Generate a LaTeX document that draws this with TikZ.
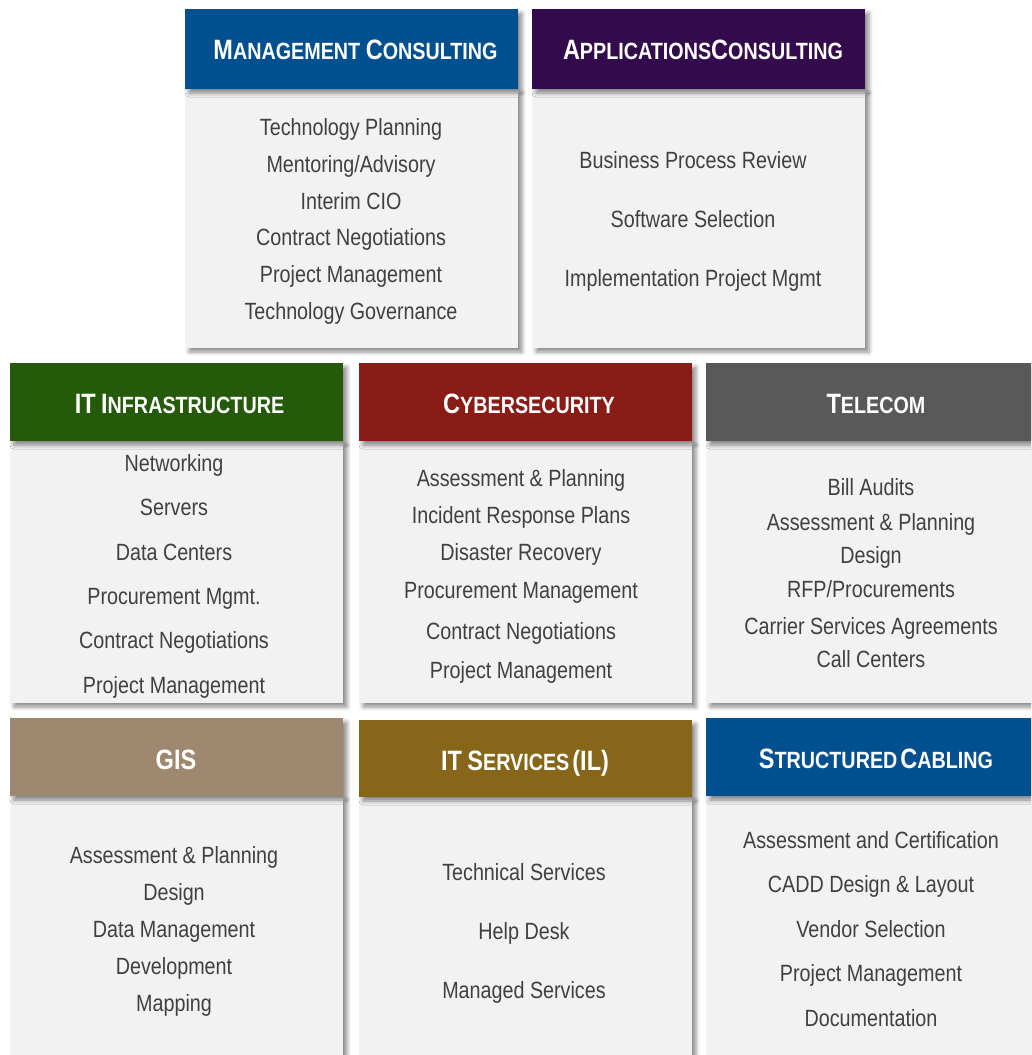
\documentclass[tikz,border=0pt]{standalone}
\usepackage{fontspec}
\setmainfont{Liberation Sans}[FakeStretch=0.84]
\usetikzlibrary{shadows.blur}

\definecolor{mgmtblue}{RGB}{0,79,143}
\definecolor{appspurple}{RGB}{51,10,75}
\definecolor{infragreen}{RGB}{36,90,10}
\definecolor{cyberred}{RGB}{137,28,22}
\definecolor{telegrey}{RGB}{89,89,89}
\definecolor{gistan}{RGB}{158,137,112}
\definecolor{svcgold}{RGB}{134,102,24}
\definecolor{bodygrey}{RGB}{242,242,242}
\definecolor{itemgrey}{RGB}{64,64,64}

% small-caps look: large initial letters, smaller capitals for the rest
\newcommand\capword[2]{{\fontsize{28pt}{28pt}\selectfont #1}{\fontsize{23.5pt}{23.5pt}\selectfont #2}}

% one centred line of service text per entry "baseline-centre/text"
\newcommand\serviceitems[3]{%
  \foreach \itemy/\itemtxt [count=\i] in {#3}{%
    \node[itemline] (#1-\i) at (#2,\itemy+8.5) {\itemtxt};%
  }%
}

\tikzset{
  boxshadow/.style={blur shadow={shadow xshift=4pt, shadow yshift=-4pt,
      shadow blur radius=4pt, shadow opacity=45}},
  bodybox/.style={fill=bodygrey, draw=none, inner sep=0pt, outer sep=0pt,
      anchor=north west, boxshadow},
  headbox/.style={fill=#1, draw=none, inner sep=0pt, outer sep=0pt,
      anchor=north west, minimum height=80pt, boxshadow},
  title/.style={anchor=base, inner sep=0pt, text=white,
      font=\bfseries\fontsize{23.5pt}{23.5pt}\selectfont},
  itemline/.style={anchor=base, inner sep=0pt, text=itemgrey,
      font=\fontsize{23.5pt}{23.5pt}\selectfont},
}

\begin{document}
\begin{tikzpicture}[x=1pt, y=-1pt]
\useasboundingbox (0,0) rectangle (1031,1055);
\clip (0,0) rectangle (1031,1055);

% ---------- top row ----------
\node[bodybox, minimum width=333pt, minimum height=259pt] (mcBody) at (185,89) {};
\node[headbox=mgmtblue, minimum width=333pt] (mcHead) at (185,9) {};
\node[title] (mcTitle) at (355.5,59.5) {\capword{M}{ANAGEMENT} \capword{C}{ONSULTING}};
\serviceitems{mc}{351}{127/Technology Planning, 164/{Mentoring/Advisory}, 201/Interim CIO,
  237/Contract Negotiations, 274/Project Management, 311/Technology Governance}

\node[bodybox, minimum width=333pt, minimum height=259pt] (acBody) at (532,89) {};
\node[headbox=appspurple, minimum width=333pt] (acHead) at (532,9) {};
\node[title] (acTitle) at (703,59.5) {\capword{A}{PPLICATIONS}\capword{C}{ONSULTING}};
\serviceitems{ac}{693}{160/Business Process Review, 219/Software Selection,
  278/Implementation Project Mgmt}

% ---------- middle row ----------
\node[bodybox, minimum width=333pt, minimum height=262pt] (itBody) at (10,441) {};
\node[headbox=infragreen, minimum width=333pt, minimum height=78pt] (itHead) at (10,363) {};
\node[title] (itTitle) at (179.5,413.3) {\capword{IT}{} \capword{I}{NFRASTRUCTURE}};
\serviceitems{it}{174}{463/Networking, 507/Servers, 552/Data Centers, 596/Procurement Mgmt.,
  640/Contract Negotiations, 685/Project Management}

\node[bodybox, minimum width=333pt, minimum height=262pt] (csBody) at (359,441) {};
\node[headbox=cyberred, minimum width=333pt, minimum height=78pt] (csHead) at (359,363) {};
\node[title] (csTitle) at (529,413.3) {\capword{C}{YBERSECURITY}};
\serviceitems{cs}{521}{478/Assessment \& Planning, 515/Incident Response Plans,
  552/Disaster Recovery, 590/Procurement Management, 631/Contract Negotiations,
  670/Project Management}

\node[bodybox, minimum width=345pt, minimum height=262pt] (tcBody) at (706,441) {};
\node[headbox=telegrey, minimum width=345pt, minimum height=78pt] (tcHead) at (706,363) {};
\node[title] (tcTitle) at (876,413.3) {\capword{T}{ELECOM}};
\serviceitems{tc}{871}{487/Bill Audits, 522/Assessment \& Planning, 555/Design,
  589/{RFP/Procurements}, 626/Carrier Services Agreements, 659/Call Centers}

% ---------- bottom row ----------
\node[bodybox, minimum width=333pt, minimum height=280pt] (gsBody) at (10,796) {};
\node[headbox=gistan, minimum width=333pt, minimum height=78pt] (gsHead) at (10,718) {};
\node[title] (gsTitle) at (176,769.3) {\capword{GIS}{}};
\serviceitems{gs}{174}{855/Assessment \& Planning, 892/Design, 929/Data Management,
  966/Development, 1003/Mapping}

\node[bodybox, minimum width=333pt, minimum height=280pt] (svBody) at (359,797) {};
\node[headbox=svcgold, minimum width=333pt, minimum height=77pt] (svHead) at (359,720) {};
\node[title] (svTitle) at (525,770.5) {\capword{IT}{} \capword{S}{ERVICES}\hspace{3pt}\capword{(IL)}{}};
\serviceitems{sv}{524}{872/Technical Services, 931/Help Desk, 990/Managed Services}

\node[bodybox, minimum width=345pt, minimum height=280pt] (scBody) at (706,796) {};
\node[headbox=mgmtblue, minimum width=345pt, minimum height=78pt] (scHead) at (706,718) {};
\node[title] (scTitle) at (876,768.7) {\capword{S}{TRUCTURED}\hspace{3pt}\capword{C}{ABLING}};
\serviceitems{sc}{871}{840/Assessment and Certification, 884/CADD Design \& Layout,
  929/Vendor Selection, 973/Project Management, 1018/Documentation}
\end{tikzpicture}
\end{document}
